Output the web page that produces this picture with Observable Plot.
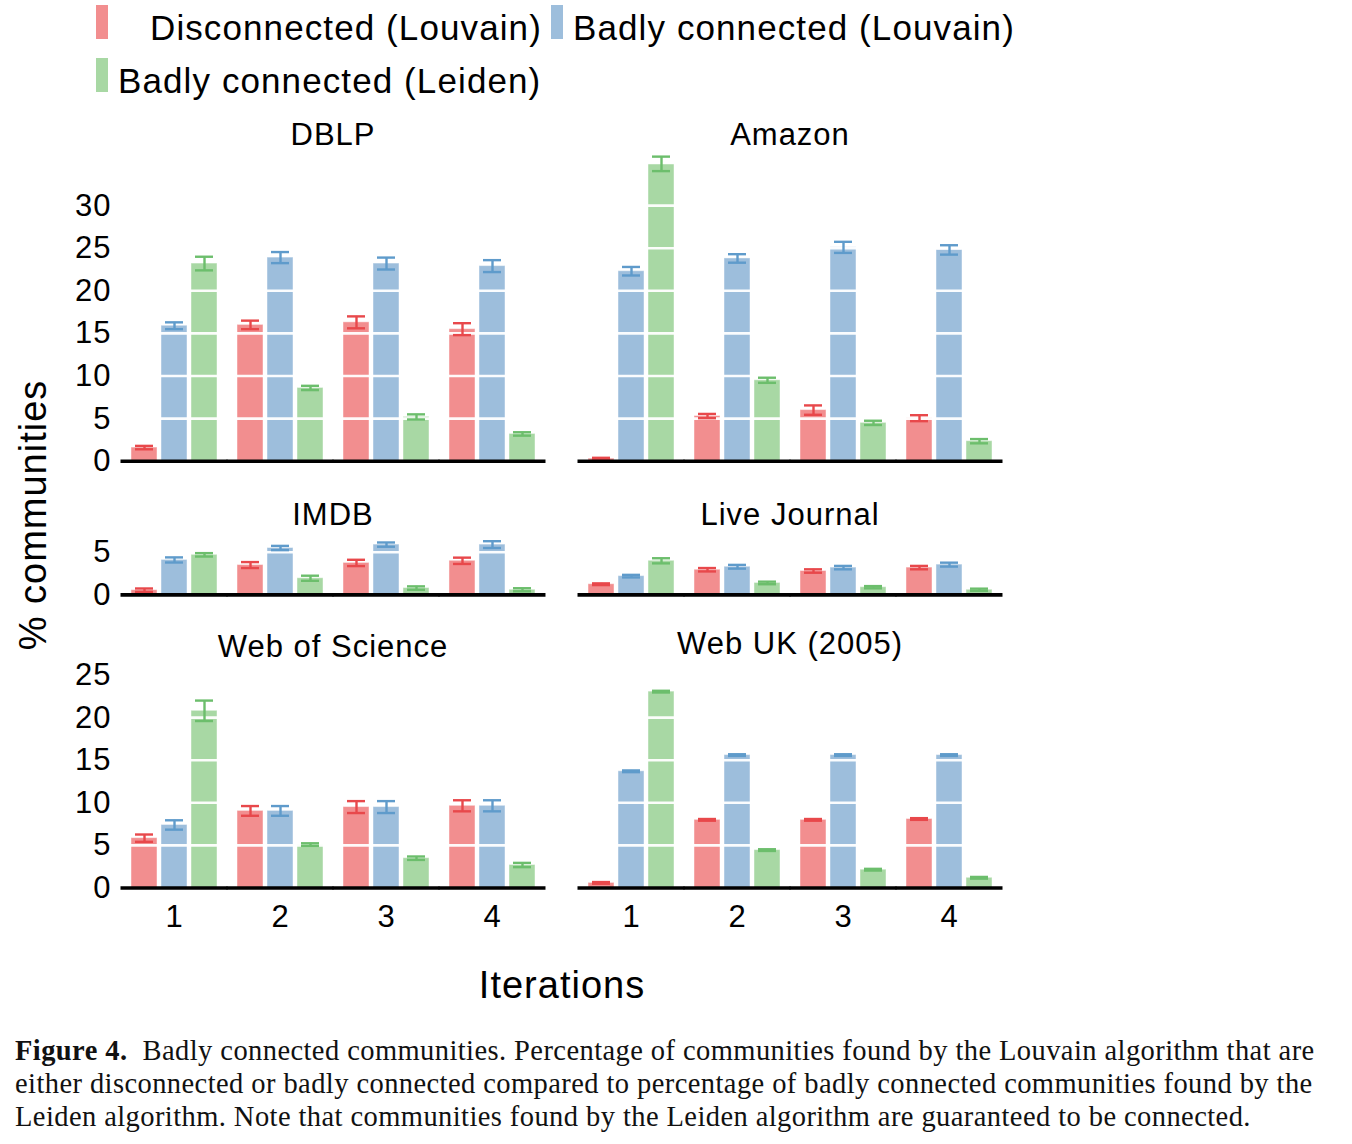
<!DOCTYPE html>
<html>
<head>
<meta charset="utf-8">
<script src="https://cdn.jsdelivr.net/npm/d3@7"></script>
<script src="https://cdn.jsdelivr.net/npm/@observablehq/plot@0.6"></script>
<style>
  html, body { margin: 0; padding: 0; background: #fff; }
  #root { position: relative; width: 1352px; height: 1144px; overflow: hidden; font-family: "Liberation Sans", sans-serif; color: #000; }
  .abs { position: absolute; white-space: nowrap; }
  .panel svg text { font-family: "Liberation Sans", sans-serif; font-size: 31px; letter-spacing: 1px; fill: #000; }
  .title { font-size: 31px; line-height: 31px; letter-spacing: 1px; transform: translateX(-50%); }
  .legtext { font-size: 35px; line-height: 35px; letter-spacing: 1.1px; }
  .swatch { position: absolute; width: 12px; height: 34px; }
  .caption { font-family: "Liberation Serif", serif; font-size: 28.5px; line-height: 33px; letter-spacing: 0.42px; color: #111; }
</style>
</head>
<body>
<div id="root"></div>
<script>
// ---------- data ----------
const iterations = [1, 2, 3, 4];
const seriesNames = ["Disconnected (Louvain)", "Badly connected (Louvain)", "Badly connected (Leiden)"];
const seriesColors = ["#f28e8f", "#9dbedc", "#a8d8a4"];
const errorColors = ["#e8484b", "#5f9bcb", "#6cbe6c"];

// means per iteration: [Disconnected (Louvain), Badly connected (Louvain), Badly connected (Leiden)]
const dblpMean = [[1.6, 15.9, 23.2], [16.0, 23.9, 8.6], [16.3, 23.2, 5.2], [15.5, 22.9, 3.2]];
const dblpErr  = [[0.2, 0.4, 0.8], [0.5, 0.65, 0.25], [0.7, 0.7, 0.3], [0.7, 0.7, 0.2]];
const amazonMean = [[0.3, 22.3, 34.9], [5.3, 23.8, 9.5], [6.0, 25.1, 4.5], [5.05, 24.8, 2.35]];
const amazonErr  = [[0.1, 0.5, 0.85], [0.25, 0.5, 0.3], [0.55, 0.65, 0.25], [0.35, 0.55, 0.25]];
const imdbMean = [[0.55, 4.1, 4.7], [3.5, 5.5, 1.95], [3.75, 5.9, 0.8], [4.0, 5.9, 0.6]];
const imdbErr  = [[0.2, 0.3, 0.2], [0.35, 0.25, 0.3], [0.37, 0.25, 0.2], [0.37, 0.4, 0.18]];
const ljMean = [[1.25, 2.2, 4.0], [2.95, 3.3, 1.4], [2.8, 3.2, 0.9], [3.2, 3.55, 0.6]];
const ljErr  = [[0.1, 0.15, 0.3], [0.2, 0.22, 0.15], [0.2, 0.2, 0.13], [0.2, 0.23, 0.13]];
const wosMean = [[5.85, 7.4, 20.8], [9.05, 9.05, 5.1], [9.5, 9.5, 3.5], [9.65, 9.65, 2.7]];
const wosErr  = [[0.43, 0.55, 1.2], [0.57, 0.57, 0.15], [0.7, 0.7, 0.2], [0.65, 0.65, 0.25]];
const webukMean = [[0.6, 13.7, 23.05], [8.0, 15.6, 4.45], [8.0, 15.6, 2.15], [8.1, 15.6, 1.2]];
const webukErr  = [[0.1, 0.1, 0.1], [0.1, 0.1, 0.1], [0.1, 0.1, 0.1], [0.1, 0.1, 0.1]];

const topTicks = [0, 5, 10, 15, 20, 25, 30];
const midTicks = [0, 5];
const bottomTicks = [0, 5, 10, 15, 20, 25];
const topGrid = [5, 10, 15, 20, 25, 30, 35];
const midGrid = [5];
const bottomGrid = [5, 10, 15, 20, 25];

const panelTitles = ["DBLP", "Amazon", "IMDB", "Live Journal", "Web of Science", "Web UK (2005)"];

// ---------- helpers ----------
const errKeys = seriesNames.map(s => s + " error");
const root = document.getElementById("root");

function rows(mean, err) {
  const out = [];
  iterations.forEach((it, i) => {
    seriesNames.forEach((s, j) => {
      out.push({iter: it, series: s, errKey: errKeys[j], value: mean[i][j], lo: mean[i][j] - err[i][j], hi: mean[i][j] + err[i][j]});
    });
  });
  return out;
}

const K = 8.52; // pixels per unit (shared vertical scale)
function panel({mean, err, yMax, ticks, grid, showY, showX, left, zeroY}) {
  const data = rows(mean, err);
  const marginTop = 6;
  const marginBottom = showX ? 50 : 6;
  const marginLeft = showY ? 129 : 10;
  const plotH = yMax * K;
  const chart = Plot.plot({
    width: marginLeft + 407 + 12,
    height: marginTop + plotH + marginBottom,
    marginTop, marginBottom, marginLeft, marginRight: 12,
    style: {background: "transparent", overflow: "visible"},
    facet: {data, x: "iter", label: null},
    fx: {domain: iterations, paddingInner: 0.1724, paddingOuter: 0, axis: showX ? "bottom" : null, label: null, tickSize: 0, tickPadding: 17},
    x: {domain: seriesNames, paddingInner: 0.15, paddingOuter: 0, axis: null},
    y: {domain: [0, yMax], ticks, tickFormat: d => String(d), axis: showY ? "left" : null, label: null, tickSize: 0, tickPadding: 19},
    color: {domain: [...seriesNames, ...errKeys], range: [...seriesColors, ...errorColors]},
    marks: [
      Plot.barY(data, {x: "series", y: "value", fill: "series", stroke: "white", strokeOpacity: 0.45, strokeWidth: 1}),
      Plot.ruleY(grid, {stroke: "white", strokeWidth: 2.6, strokeOpacity: 0.95}),
      Plot.ruleX(data, {x: "series", y1: "lo", y2: "hi", stroke: "errKey", strokeWidth: 2.4}),
      Plot.tickY(data, {x: "series", y: "lo", stroke: "errKey", strokeWidth: 2.4, insetLeft: 4, insetRight: 4}),
      Plot.tickY(data, {x: "series", y: "hi", stroke: "errKey", strokeWidth: 2.4, insetLeft: 4, insetRight: 4}),
      Plot.ruleY([0], {stroke: "black", strokeWidth: 3.6, insetLeft: -9.5, insetRight: -9.5})
    ]
  });
  const wrap = document.createElement("div");
  wrap.className = "panel abs";
  wrap.style.left = (left - marginLeft) + "px";
  wrap.style.top = (zeroY - plotH - marginTop) + "px";
  wrap.appendChild(chart);
  root.appendChild(wrap);
}

function text(str, cls, left, baseline, fs, extra = {}) {
  const d = document.createElement("div");
  d.className = "abs " + cls;
  d.textContent = str;
  d.style.left = left + "px";
  d.style.top = (baseline - 0.8465 * fs) + "px";
  Object.assign(d.style, extra);
  root.appendChild(d);
  return d;
}

// ---------- panels ----------
panel({mean: dblpMean, err: dblpErr, yMax: 36, ticks: topTicks, grid: topGrid, showY: true, showX: false, left: 129, zeroY: 461});
panel({mean: amazonMean, err: amazonErr, yMax: 36, ticks: topTicks, grid: topGrid, showY: false, showX: false, left: 586, zeroY: 461});
panel({mean: imdbMean, err: imdbErr, yMax: 6.5, ticks: midTicks, grid: midGrid, showY: true, showX: false, left: 129, zeroY: 594});
panel({mean: ljMean, err: ljErr, yMax: 6.5, ticks: midTicks, grid: midGrid, showY: false, showX: false, left: 586, zeroY: 594});
panel({mean: wosMean, err: wosErr, yMax: 26, ticks: bottomTicks, grid: bottomGrid, showY: true, showX: true, left: 129, zeroY: 887.5});
panel({mean: webukMean, err: webukErr, yMax: 26, ticks: bottomTicks, grid: bottomGrid, showY: false, showX: true, left: 586, zeroY: 887.5});

// ---------- titles ----------
text(panelTitles[0], "title", 333, 145, 31);
text(panelTitles[1], "title", 790, 145, 31);
text(panelTitles[2], "title", 333, 525, 31);
text(panelTitles[3], "title", 790, 525, 31);
text(panelTitles[4], "title", 333, 657, 31);
text(panelTitles[5], "title", 790, 654, 31);

// axis titles
text("Iterations", "title", 562, 998, 38, {fontSize: "38px", lineHeight: "38px"});
const yl = document.createElement("div");
yl.className = "abs";
yl.textContent = "% communities";
Object.assign(yl.style, {fontSize: "38px", lineHeight: "38px", letterSpacing: "1px", left: "33px", top: "515px", transform: "translate(-50%, -50%) rotate(-90deg)"});
root.appendChild(yl);

// ---------- legend ----------
function swatch(color, left, top) {
  const s = document.createElement("div");
  s.className = "swatch";
  s.style.background = color; s.style.left = left + "px"; s.style.top = top + "px";
  root.appendChild(s);
}
swatch(seriesColors[0], 96, 5);
text(seriesNames[0], "legtext", 150, 40, 35);
swatch(seriesColors[1], 551, 5);
text(seriesNames[1], "legtext", 573, 40, 35);
swatch(seriesColors[2], 96, 58);
text(seriesNames[2], "legtext", 118, 93, 35);

// ---------- caption ----------
const cap = document.createElement("div");
cap.className = "abs caption";
cap.style.left = "15px";
cap.style.top = (1060 - 26.3) + "px";
cap.innerHTML = "<b>Figure 4.</b>&nbsp;&nbsp;Badly connected communities. Percentage of communities found by the Louvain algorithm that are<br>" +
  "either disconnected or badly connected compared to percentage of badly connected communities found by the<br>" +
  "Leiden algorithm. Note that communities found by the Leiden algorithm are guaranteed to be connected.";
root.appendChild(cap);
</script>
</body>
</html>
